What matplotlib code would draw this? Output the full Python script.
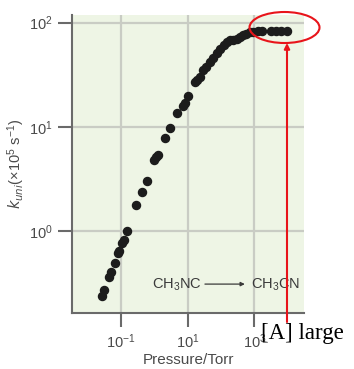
import matplotlib
matplotlib.use("Agg")
import matplotlib.pyplot as plt
from matplotlib.patches import Ellipse, FancyArrowPatch
from matplotlib.ticker import FixedLocator, NullLocator, LogFormatterSciNotation

plt.rcParams['font.family'] = ['Liberation Sans', 'DejaVu Sans']
plt.rcParams['mathtext.default'] = 'regular'

pressure = [0.0269, 0.0313, 0.0422, 0.0491, 0.067, 0.0796, 0.0853, 0.1094, 0.123, 0.149,
            0.288, 0.421, 0.611, 0.977, 1.122, 1.262, 2.13, 2.99, 4.79, 7.40, 8.32, 10.2,
            16.9, 19.7, 23.4, 28.4, 36.0, 48.4, 58.3, 73.3, 94.6, 119, 151, 189, 237, 292,
            377, 473, 582, 741, 944, 1288, 1698, 3273, 4467, 6310, 9226]
k_uni = [0.242, 0.272, 0.362, 0.406, 0.497, 0.615, 0.655, 0.773, 0.834, 1.00,
         1.79, 2.39, 3.07, 4.81, 5.13, 5.44, 7.81, 9.83, 13.5, 15.9, 16.9, 20.0,
         26.9, 28.2, 30.4, 35.2, 37.6, 42.3, 45.6, 50.9, 56.0, 61.5, 65.3, 67.8, 69.0, 70.3,
         73.0, 75.4, 78.3, 81.5, 82.0, 82.4, 82.4, 82.4, 83.2, 83.8, 83.6]
x_ticks = [0.1, 10, 1000]
y_ticks = [1, 10, 100]

W, H = 354, 369
fig = plt.figure(figsize=(W / 100, H / 100), dpi=100)
ax = fig.add_axes([72 / W, 1 - 313 / H, (304 - 72) / W, (313 - 15) / H])
ax.set_facecolor('#eef5e5')
ax.set_xscale('log')
ax.set_yscale('log')
ax.set_xlim(0.00339, 30900)
ax.set_ylim(0.165, 118.5)

ax.grid(True, which='major', color='#c9ccc4', linewidth=1.6, zorder=0)
ax.set_axisbelow(True)
ax.plot(pressure, k_uni, 'o', color='#1c1c1c', markersize=5.8, zorder=3)

ax.xaxis.set_major_locator(FixedLocator(x_ticks))
ax.yaxis.set_major_locator(FixedLocator(y_ticks))
ax.xaxis.set_minor_locator(NullLocator())
ax.yaxis.set_minor_locator(NullLocator())
ax.xaxis.set_major_formatter(LogFormatterSciNotation())
ax.yaxis.set_major_formatter(LogFormatterSciNotation())

for s in ['top', 'right']:
    ax.spines[s].set_visible(False)
for s in ['left', 'bottom']:
    ax.spines[s].set_color('#6a6a6a')
    ax.spines[s].set_linewidth(1.5)
ax.tick_params(axis='both', direction='out', length=10, width=1.5, color='#6a6a6a',
               labelcolor='#4a4a4a', labelsize=10.5, pad=4)

ax.set_xlabel('Pressure/Torr', fontsize=11, color='#4a4a4a', labelpad=1.5)
ax.set_ylabel(r'$\mathit{k_{uni}}$(×10$^5$ s$^{-1}$)', fontsize=10.5, color='#4a4a4a',
              labelpad=1)

# reaction text
ax.text(0.345, 0.094, r'CH$_3$NC', transform=ax.transAxes, fontsize=10.5, color='#3a3a3a',
        ha='left', va='center')
ax.text(0.985, 0.094, r'CH$_3$CN', transform=ax.transAxes, fontsize=10.5, color='#3a3a3a',
        ha='right', va='center')
ax.annotate('', xy=(0.745, 0.097), xytext=(0.573, 0.097), xycoords='axes fraction',
            arrowprops=dict(arrowstyle='-|>', color='#3a3a3a', lw=0.9,
                            mutation_scale=6, shrinkA=0, shrinkB=0))

# red overlay
ell = Ellipse((284.5 / W, 1 - 27.5 / H), 70 / W, 31 / H, transform=fig.transFigure,
              fill=False, edgecolor='#e8141a', linewidth=1.5)
fig.add_artist(ell)
fig.add_artist(FancyArrowPatch(
    (287 / W, 1 - 322 / H), (287 / W, 1 - 43 / H), transform=fig.transFigure,
    arrowstyle='-|>', mutation_scale=8, color='#e8141a', linewidth=1.5,
    shrinkA=0, shrinkB=0))
fig.text(261 / W, 1 - 333 / H, '[A] large', family='Liberation Serif', fontsize=16.5,
         color='black', ha='left', va='center')

fig.savefig('out.png', dpi=100)
